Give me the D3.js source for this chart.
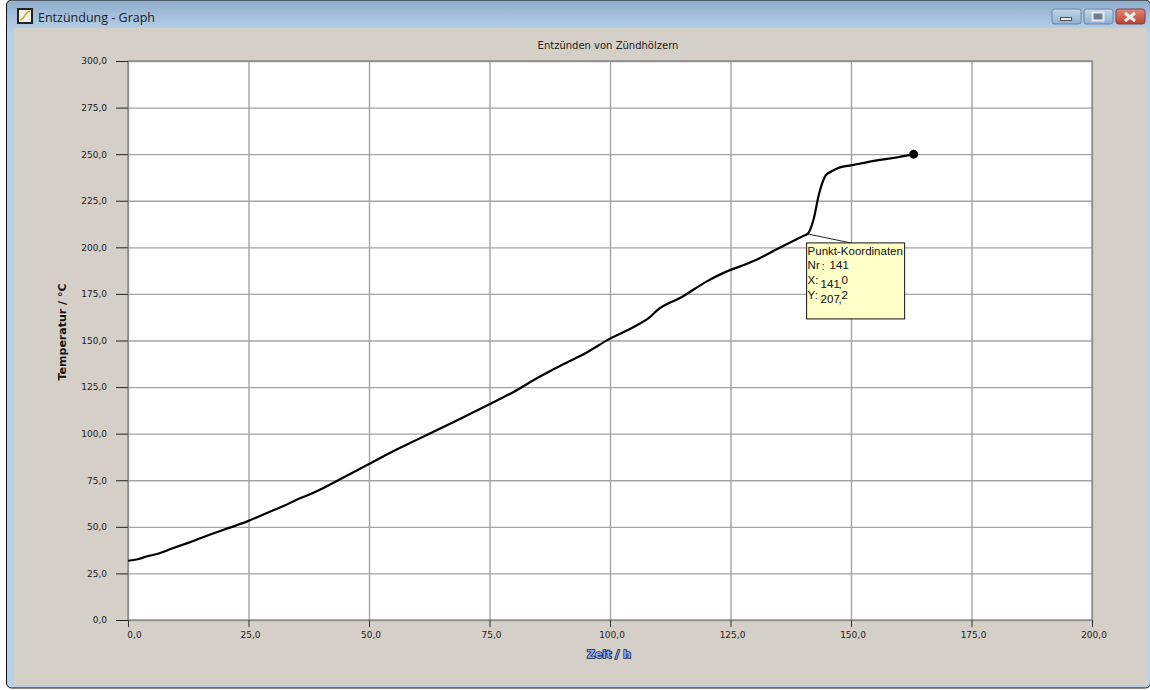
<!doctype html>
<html>

<head>
    <meta charset="utf-8">
    <title>Entzündung - Graph</title>
    <script src="https://cdnjs.cloudflare.com/ajax/libs/d3/7.8.5/d3.min.js"></script>
    <style>
        body { margin: 0; background: #fff; }
        svg { display: block; }
        text { font-family: "DejaVu Sans", sans-serif; fill: #222; }
    </style>
</head>

<body>
    <div id="my-svg-chart"></div>

    <script>
        // values
        const windowTitle = 'Entzündung - Graph';
        const chartTitle = 'Entzünden von Zündhölzern';
        const xLabel = 'Zeit / h';
        const yLabel = 'Temperatur / °C';
        const xTicks = [0, 25, 50, 75, 100, 125, 150, 175, 200];
        const yTicks = [0, 25, 50, 75, 100, 125, 150, 175, 200, 225, 250, 275, 300];
        const timeValues = [0, 2, 4, 6, 8, 10, 12.5, 15, 17.5, 20, 22.5, 25, 27.5, 30, 32.5, 35, 37.5, 40, 45, 50, 55, 60, 65, 70, 75,
            80, 85, 90, 95, 100, 105, 108, 110, 115, 120, 125, 127.5, 130, 135, 140, 141, 142.2, 143.4, 144.8,
            146, 147.7, 150, 153, 156, 160, 163];
        const tempValues = [31.8, 32.6, 34.2, 35.4, 37.2, 39.2, 41.4, 43.9, 46.3, 48.6, 50.8, 53.2, 56, 58.8, 61.4, 64.6, 67.2, 70.2, 76.9, 83.7, 90.6, 96.8, 103, 109.4, 115.8,
            122.4, 130, 136.9, 143.3, 151, 157.4, 162, 166.7, 173.5, 181.6, 187.9, 190.2, 192.9, 199.5, 206, 207.2, 214.7, 229, 238.8,
            240.8, 242.9, 244, 245.5, 246.9, 248.5, 250];
        const tipHeader = 'Punkt-Koordinaten';
        const tipNr = 141;
        const tipX = [141, 0];
        const tipY = [207, 2];

        const svg = d3.select('#my-svg-chart').append('svg')
            .attr('width', 1150)
            .attr('height', 690);

        // window frame
        const defs = svg.append('defs');
        const bar = defs.append('linearGradient').attr('id', 'frame')
            .attr('x1', 0).attr('y1', 0).attr('x2', 0).attr('y2', 1);
        bar.append('stop').attr('offset', 0).attr('stop-color', '#8daccb');
        bar.append('stop').attr('offset', 0.045).attr('stop-color', '#b8d1ea');
        bar.append('stop').attr('offset', 1).attr('stop-color', '#b8d1ea');

        svg.append('rect').attr('x', 6.5).attr('y', 0).attr('width', 1144).attr('height', 688)
            .attr('rx', 5).attr('fill', 'url(#frame)').attr('stroke', '#111');
        svg.append('rect').attr('x', 14).attr('y', 28).attr('width', 1133).attr('height', 657)
            .attr('fill', '#d4d0c8');

        // icon
        const icon = svg.append('g').attr('transform', 'translate(17,8)');
        icon.append('rect').attr('width', 16).attr('height', 16).attr('fill', '#222');
        icon.append('rect').attr('x', 2).attr('y', 2).attr('width', 12).attr('height', 12).attr('fill', '#f4f2e4');
        icon.append('path').attr('d', 'M3,12 C8,12 7,4 13,3').attr('fill', 'none').attr('stroke', '#c8a818').attr('stroke-width', 1.5);

        svg.append('text').attr('x', 38).attr('y', 22)
            .style('font-family', '"Open Sans", sans-serif').style('font-size', '12.5px')
            .text(windowTitle);

        // window buttons
        const buttons = [
            { x: 1052, w: 29, top: '#c4d6e8', bottom: '#8fb0d0', stroke: '#6b87a6' },
            { x: 1084, w: 29, top: '#c4d6e8', bottom: '#8fb0d0', stroke: '#6b87a6' },
            { x: 1116, w: 29, top: '#e08a78', bottom: '#b8402c', stroke: '#7c4452' }
        ];
        buttons.forEach((b, i) => {
            const grad = defs.append('linearGradient').attr('id', 'btn' + i)
                .attr('x1', 0).attr('y1', 0).attr('x2', 0).attr('y2', 1);
            grad.append('stop').attr('offset', 0).attr('stop-color', b.top);
            grad.append('stop').attr('offset', 1).attr('stop-color', b.bottom);
            svg.append('rect').attr('x', b.x).attr('y', 9).attr('width', b.w).attr('height', 15)
                .attr('rx', 2.5).attr('fill', `url(#btn${i})`).attr('stroke', b.stroke);
        });
        svg.append('rect').attr('x', 1060.5).attr('y', 17.5).attr('width', 11).attr('height', 3)
            .attr('fill', '#e8e8ee').attr('stroke', '#555');
        svg.append('rect').attr('x', 1092.5).attr('y', 12.5).attr('width', 11).attr('height', 8)
            .attr('fill', '#6c7f96').attr('stroke', '#e8e8ee').attr('stroke-width', 2);
        svg.append('path').attr('d', 'M1125,13 L1135,21 M1135,13 L1125,21')
            .attr('stroke', '#eee').attr('stroke-width', 3);

        // chart
        const x = d3.scaleLinear().domain([0, 200]).range([128, 1092]);
        const y = d3.scaleLinear().domain([0, 300]).range([620, 61]);
        const label = d => d3.format('.1f')(d).replace('.', ',');

        svg.append('rect').attr('x', x(0)).attr('y', y(300))
            .attr('width', x(200) - x(0)).attr('height', y(0) - y(300))
            .attr('fill', '#fff');

        // grid lines
        svg.append('g').attr('transform', `translate(${x(0)},0)`)
            .call(d3.axisLeft(y).tickValues(yTicks).tickSize(-(x(200) - x(0))).tickFormat(''))
            .call(g => g.select('.domain').remove())
            .selectAll('line').attr('stroke', '#a4a4a4').attr('stroke-width', 1.4);
        svg.append('g').attr('transform', `translate(0,${y(0)})`)
            .call(d3.axisBottom(x).tickValues(xTicks).tickSize(-(y(0) - y(300))).tickFormat(''))
            .call(g => g.select('.domain').remove())
            .selectAll('line').attr('stroke', '#a4a4a4').attr('stroke-width', 1.4);

        // plot border
        svg.append('rect').attr('x', x(0)).attr('y', y(300))
            .attr('width', x(200) - x(0)).attr('height', y(0) - y(300))
            .attr('fill', 'none').attr('stroke', '#808080').attr('stroke-width', 1.2);

        // axes with outer ticks
        const yAxis = svg.append('g').attr('transform', `translate(${x(0)},0)`)
            .call(d3.axisLeft(y).tickValues(yTicks).tickSize(12).tickPadding(9).tickFormat(label));
        yAxis.select('.domain').remove();
        yAxis.selectAll('line').attr('stroke', '#222');
        yAxis.selectAll('text').style('font-size', '9px').attr('fill', '#222');

        const xAxis = svg.append('g').attr('transform', `translate(0,${y(0)})`)
            .call(d3.axisBottom(x).tickValues(xTicks).tickSize(7).tickPadding(5).tickFormat(label));
        xAxis.select('.domain').remove();
        xAxis.selectAll('line').attr('stroke', '#333');
        xAxis.selectAll('text').style('font-size', '9px').attr('fill', '#222')
            .attr('dx', d => d === 0 ? 6 : 1.5);

        svg.append('text').attr('x', 608).attr('y', 49).attr('text-anchor', 'middle')
            .style('font-size', '10px')
            .text(chartTitle);

        svg.append('text').attr('x', 609).attr('y', 658).attr('text-anchor', 'middle')
            .style('font-size', '11px').style('font-weight', 'bold')
            .style('fill', '#8cacff').style('stroke', '#0e1a40').style('stroke-width', 1.6)
            .style('paint-order', 'stroke')
            .text(xLabel);

        svg.append('text').attr('transform', 'translate(66,332) rotate(-90)').attr('text-anchor', 'middle')
            .style('font-size', '11px').style('font-weight', 'bold').style('fill', '#111')
            .text(yLabel);

        // curve
        const points = timeValues.map((t, i) => [t, tempValues[i]]);
        const line = d3.line().x(d => x(d[0])).y(d => y(d[1])).curve(d3.curveMonotoneX);
        svg.append('path').datum(points)
            .attr('d', line)
            .attr('fill', 'none').attr('stroke', '#000').attr('stroke-width', 2.2);

        const last = points[points.length - 1];
        svg.append('circle').attr('cx', x(last[0])).attr('cy', y(last[1])).attr('r', 4.5).attr('fill', '#000');

        // tooltip for point 141
        const tipPoint = points[timeValues.indexOf(tipNr)];
        const tipLeft = x(tipPoint[0]) - 1;
        const tipTop = y(tipPoint[1]) + 9;
        svg.append('line')
            .attr('x1', x(tipPoint[0])).attr('y1', y(tipPoint[1]))
            .attr('x2', tipLeft + 44).attr('y2', tipTop)
            .attr('stroke', '#222');
        svg.append('rect').attr('x', tipLeft).attr('y', tipTop).attr('width', 98).attr('height', 76)
            .attr('fill', '#ffffc8').attr('stroke', '#111');

        const tip = svg.append('g').attr('transform', `translate(${tipLeft + 1},${tipTop})`);
        const tipText = (s, dx, dy) => tip.append('text').attr('x', dx).attr('y', dy)
            .style('font-family', '"Liberation Sans", sans-serif').style('font-size', '11.5px').style('fill', '#111').text(s);
        tipText(tipHeader, 0, 12);
        tipText('Nr', 0, 26);
        tipText(':', 14, 27);
        tipText(tipNr, 22, 26);
        tipText('X:', 0, 41);
        tipText(tipX[0], 13, 45);
        tipText(',', 31, 45);
        tipText(tipX[1], 34, 41);
        tipText('Y:', 0, 56);
        tipText(tipY[0], 13, 60);
        tipText(',', 31, 60);
        tipText(tipY[1], 34, 56);
    </script>
</body>

</html>
